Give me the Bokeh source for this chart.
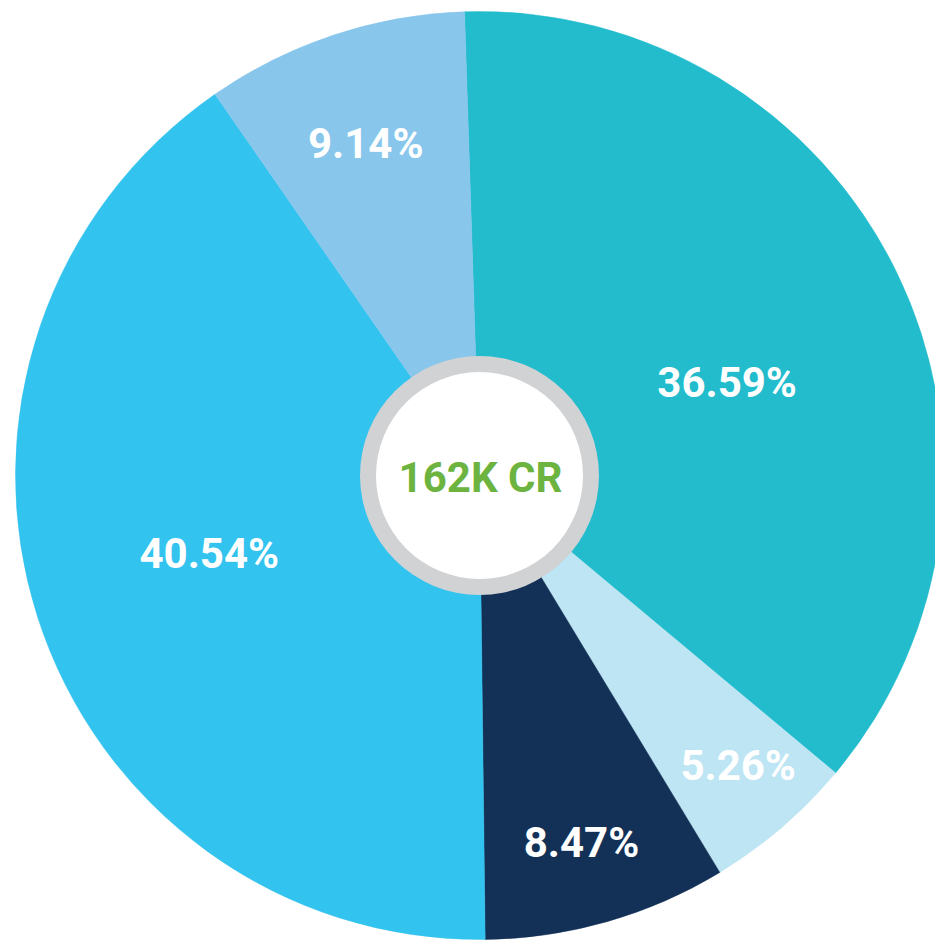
import math
from bokeh.plotting import figure
from bokeh.models import ColumnDataSource, Range1d
from bokeh.core.properties import value
from bokeh.embed import file_html
from bokeh.resources import INLINE

# ---- data ----
labels = ["36.59%", "5.26%", "8.47%", "40.54%", "9.14%"]
shares = [36.59, 5.26, 8.47, 40.54, 9.14]
colors = ["#22BCCD", "#BEE5F3", "#133157", "#33C3EF", "#88C6EC"]
center_label = "162K CR"

# ---- layout / style ----
W, H = 935, 940
cx, cy = 479, 940 - 475
R = 464
start_offset = -1.85         # degrees clockwise from 12 o'clock
label_r = [0.57, 0.837, 0.82, 0.606, 0.757]       # fraction of radius
label_dtheta = [5.4, -1.1, 0.4, 1.7, -0.6]        # degrees tweak
ring_outer, ring_inner = 119.5, 103.5

total = sum(shares)
starts, ends, lx, ly = [], [], [], []
cum = 0.0
for i, s in enumerate(shares):
    a0 = start_offset + cum / total * 360.0
    a1 = start_offset + (cum + s) / total * 360.0
    starts.append(math.radians(90 - a0))
    ends.append(math.radians(90 - a1))
    mid = (a0 + a1) / 2 + label_dtheta[i]
    r = label_r[i] * R
    lx.append(cx + r * math.sin(math.radians(mid)))
    ly.append(cy + r * math.cos(math.radians(mid)))
    cum += s

src = ColumnDataSource(dict(start=starts, end=ends, color=colors,
                            label=labels, lx=lx, ly=ly))

p = figure(width=W, height=H, x_range=Range1d(0, W), y_range=Range1d(0, H),
           output_backend="svg", toolbar_location=None,
           x_axis_location=None, y_axis_location=None, min_border=0)
p.grid.visible = False
p.outline_line_color = None
p.background_fill_color = "white"
p.border_fill_color = "white"

p.wedge(x=cx, y=cy, radius=R, start_angle="start", end_angle="end",
        direction="clock", fill_color="color", line_color="color",
        line_width=0.5, source=src)

p.text(x="lx", y="ly", text="label", source=src,
       text_font=value("Roboto"), text_font_style="bold",
       text_font_size="42px", text_color="white",
       text_align="center", text_baseline="middle")

p.circle(x=[cx], y=[cy], radius=ring_outer, fill_color="#D1D2D4",
         line_color=None)
p.circle(x=[cx], y=[cy], radius=ring_inner, fill_color="white",
         line_color=None)
p.text(x=[cx + 1], y=[cy - 1.5], text=[center_label],
       text_font=value("Roboto"), text_font_style="bold",
       text_font_size="42px", text_color="#6CB33F",
       text_align="center", text_baseline="middle")

open("out.html", "w").write(file_html(p, INLINE))
